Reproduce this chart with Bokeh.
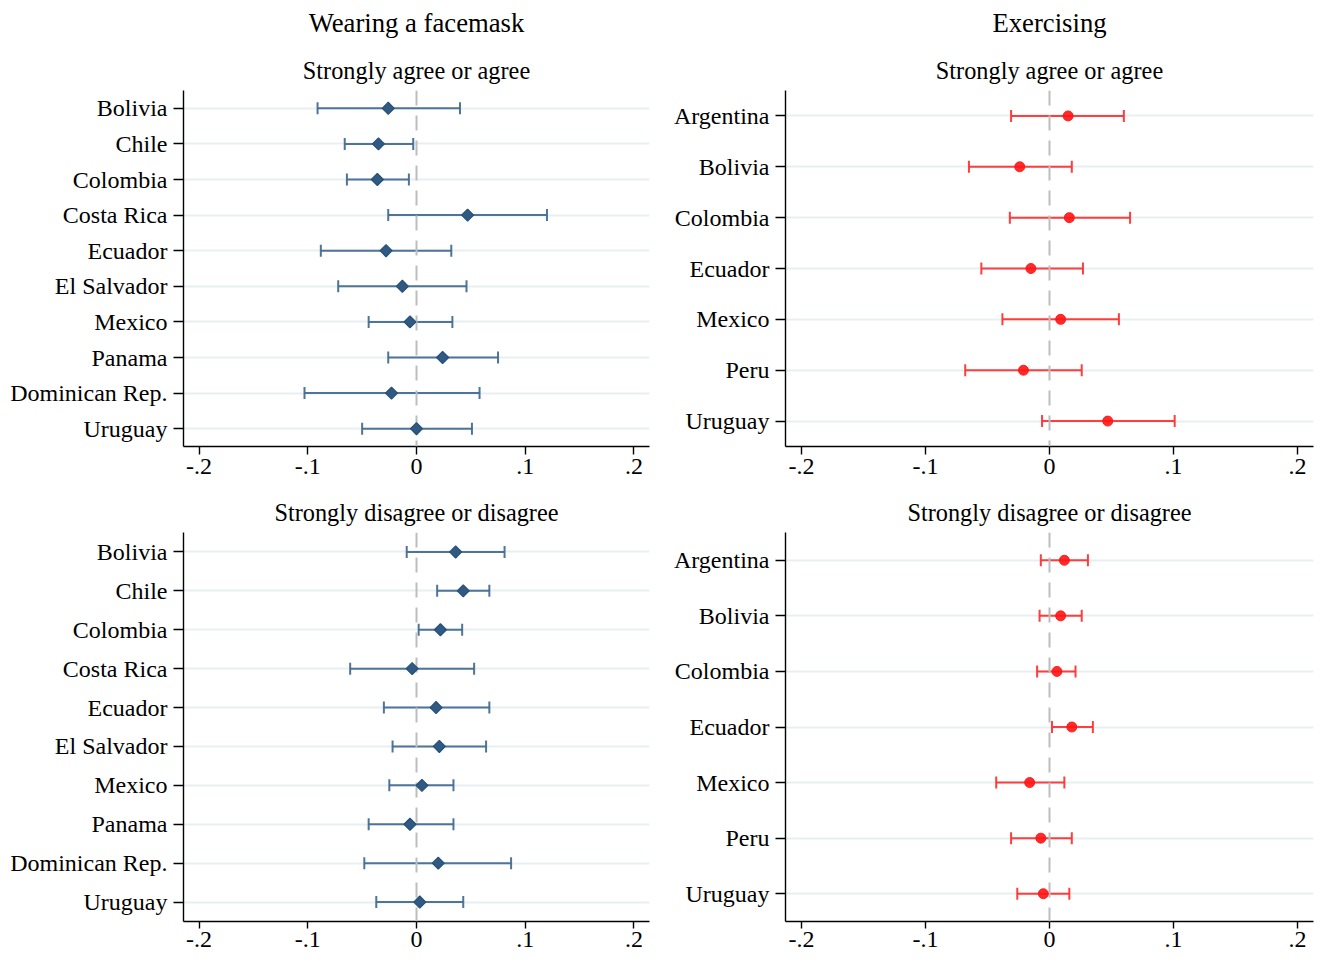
import numpy as np
from bokeh.plotting import figure
from bokeh.models import Range1d, FactorRange, FixedTicker, Span, Title, ColumnDataSource
from bokeh.layouts import column, row
from bokeh.embed import file_html
from bokeh.resources import INLINE

FONT = "Liberation Serif"

# ---------------- data ----------------
tick_values = [-0.2, -0.1, 0.0, 0.1, 0.2]
tick_labels = ["-.2", "-.1", "0", ".1", ".2"]

mask_countries = ["Bolivia", "Chile", "Colombia", "Costa Rica", "Ecuador",
                  "El Salvador", "Mexico", "Panama", "Dominican Rep.", "Uruguay"]
mask_agree_est = [-0.026, -0.035, -0.036, 0.047, -0.028, -0.013, -0.006, 0.024, -0.023, 0.000]
mask_agree_lo = [-0.091, -0.066, -0.064, -0.026, -0.088, -0.072, -0.044, -0.026, -0.103, -0.050]
mask_agree_hi = [0.040, -0.003, -0.007, 0.120, 0.032, 0.046, 0.033, 0.075, 0.058, 0.051]

mask_disagree_est = [0.036, 0.043, 0.022, -0.004, 0.018, 0.021, 0.005, -0.006, 0.020, 0.003]
mask_disagree_lo = [-0.009, 0.019, 0.002, -0.061, -0.030, -0.022, -0.025, -0.044, -0.048, -0.037]
mask_disagree_hi = [0.081, 0.067, 0.042, 0.053, 0.067, 0.064, 0.034, 0.034, 0.087, 0.043]

ex_countries = ["Argentina", "Bolivia", "Colombia", "Ecuador", "Mexico", "Peru", "Uruguay"]
ex_agree_est = [0.015, -0.024, 0.016, -0.015, 0.009, -0.021, 0.047]
ex_agree_lo = [-0.031, -0.065, -0.032, -0.055, -0.038, -0.068, -0.006]
ex_agree_hi = [0.060, 0.018, 0.065, 0.027, 0.056, 0.026, 0.101]

ex_disagree_est = [0.012, 0.009, 0.006, 0.018, -0.016, -0.007, -0.005]
ex_disagree_lo = [-0.007, -0.008, -0.010, 0.002, -0.043, -0.031, -0.026]
ex_disagree_hi = [0.031, 0.026, 0.021, 0.035, 0.012, 0.018, 0.016]

BLUE_LINE = "#446d95"
BLUE_MARK = "#305a82"
RED_LINE = "#ff3434"
RED_MARK = "#ff1414"


def add_title(p, text, size, standoff):
    p.add_layout(Title(text=text, align="center", vertical_align="bottom",
                       text_font=FONT, text_font_size=size, text_font_style="normal",
                       text_color="black", standoff=standoff), "above")


def panel(countries, est, lo, hi, kind, xlim, subtitle, title=None, bottom_row=False, **size):
    p = figure(y_range=FactorRange(factors=list(reversed(countries))),
               x_range=Range1d(-xlim, xlim),
               output_backend="svg", toolbar_location=None, **size)
    p.outline_line_color = None
    p.background_fill_color = "white"
    p.border_fill_color = "white"
    p.xgrid.visible = False
    p.ygrid.grid_line_color = "#e7eff2"
    p.ygrid.grid_line_width = 2

    for ax in (p.xaxis[0], p.yaxis[0]):
        ax.axis_line_color = "black"
        ax.axis_line_width = 1.4
        ax.major_tick_line_color = "black"
        ax.major_tick_line_width = 1.4
        ax.major_tick_in = 0
        ax.minor_tick_line_color = None
        ax.major_label_text_font = FONT
        ax.major_label_text_font_size = "24px"
        ax.major_label_text_color = "black"

    p.xaxis.ticker = FixedTicker(ticks=tick_values)
    p.xaxis.major_label_overrides = {v: l for v, l in zip(tick_values, tick_labels)}
    if bottom_row:
        p.xaxis.major_tick_out = 7
        p.xaxis.major_label_standoff = 3
    else:
        p.xaxis.major_tick_out = 8
        p.xaxis.major_label_standoff = 4
    p.yaxis.major_tick_out = 10
    p.yaxis.major_label_standoff = 6

    src = ColumnDataSource(dict(c=countries, est=est, lo=lo, hi=hi))
    if kind == "blue":
        lc, mc = BLUE_LINE, BLUE_MARK
    else:
        lc, mc = RED_LINE, RED_MARK

    p.segment(x0="lo", x1="hi", y0="c", y1="c", source=src,
              line_color=lc, line_width=2, line_alpha=0.95)
    p.scatter(x="lo", y="c", source=src, marker="dash", size=12, angle=np.pi / 2,
              line_color=lc, line_width=2, line_alpha=0.95)
    p.scatter(x="hi", y="c", source=src, marker="dash", size=12, angle=np.pi / 2,
              line_color=lc, line_width=2, line_alpha=0.95)

    zero = Span(location=0, dimension="height", line_color="#bdbdbd",
                line_width=2, line_dash="15 10", level="guide")
    p.add_layout(zero)

    if kind == "blue":
        r = p.scatter(x="est", y="c", source=src, marker="square", size=8.5, angle=np.pi / 4,
                      fill_color=mc, line_color="#24507a", line_width=1.2)
    else:
        r = p.scatter(x="est", y="c", source=src, marker="circle", size=10,
                      fill_color=mc, fill_alpha=0.9, line_color=mc, line_alpha=0.9)
    r.level = "annotation"

    add_title(p, subtitle, "24.3px", 14)
    if title is not None:
        add_title(p, " ", "7px", 0)       # spacer between the two headings
        add_title(p, title, "26.7px", 0)
    return p


top_size_l = dict(frame_width=466, frame_height=356, min_border_left=183, min_border_right=11,
                  min_border_top=90, min_border_bottom=40)
top_size_r = dict(frame_width=528, frame_height=356, min_border_left=125, min_border_right=10,
                  min_border_top=90, min_border_bottom=40)
bot_size_l = dict(frame_width=466, height=472, min_border_left=183, min_border_right=11,
                  min_border_top=46, min_border_bottom=37)
bot_size_r = dict(frame_width=528, height=472, min_border_left=125, min_border_right=10,
                  min_border_top=46, min_border_bottom=37)

p1 = panel(mask_countries, mask_agree_est, mask_agree_lo, mask_agree_hi, "blue", 0.2143,
           "Strongly agree or agree", "Wearing a facemask", **top_size_l)
p2 = panel(ex_countries, ex_agree_est, ex_agree_lo, ex_agree_hi, "red", 0.213,
           "Strongly agree or agree", "Exercising", **top_size_r)
p3 = panel(mask_countries, mask_disagree_est, mask_disagree_lo, mask_disagree_hi, "blue", 0.2143,
           "Strongly disagree or disagree", bottom_row=True, **bot_size_l)
p4 = panel(ex_countries, ex_disagree_est, ex_disagree_lo, ex_disagree_hi, "red", 0.213,
           "Strongly disagree or disagree", bottom_row=True, **bot_size_r)

layout = column(row(p1, p2), row(p3, p4))

open("out.html", "w").write(file_html(layout, INLINE))
